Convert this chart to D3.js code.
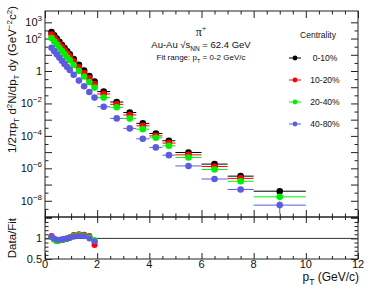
<!DOCTYPE html>
<html>
<head>
<meta charset="utf-8">
<script src="https://cdn.jsdelivr.net/npm/d3@7"></script>
<style>
  body { margin: 0; background: #fff; }
  svg { display: block; font-family: "Liberation Sans", Arial, sans-serif; }
</style>
</head>
<body>
<div id="chart"></div>
<script>
'use strict';

// pT bin centres (GeV/c)
const ptLow  = [0.25, 0.35, 0.45, 0.55, 0.65, 0.75, 0.85, 0.95, 1.1, 1.3, 1.5, 1.7, 1.9];
const ptHigh = [2.25, 2.75, 3.25, 3.75, 4.25, 4.75, 5.5, 6.5, 7.5, 9];
const binLo  = [2.0, 2.5, 3.0, 3.5, 4.0, 4.5, 5, 6, 7, 8];
const binHi  = [2.5, 3.0, 3.5, 4.0, 4.5, 5.0, 6, 7, 8, 10];

const centralities = ['0-10%', '10-20%', '20-40%', '40-80%'];
const colors = ['#000000', '#ff0000', '#00f000', '#5c5ce0'];

// invariant yields, low pT
const yLow0  = [251, 158, 100, 63, 40, 25.7, 16.6, 10.7, 5.5, 2.4, 1.07, 0.49, 0.22];
const yLow1  = [178, 112, 71, 45, 28.5, 18.3, 11.8, 7.6, 3.9, 1.70, 0.76, 0.35, 0.155];
const yLow2  = [108, 68, 43, 27, 17.2, 11.0, 7.1, 4.6, 2.35, 1.03, 0.46, 0.21, 0.095];
const yLow3  = [26.9, 17.0, 10.7, 6.8, 4.3, 2.75, 1.78, 1.15, 0.59, 0.257, 0.115, 0.051, 0.023];

// invariant yields, high pT
const yHigh0 = [0.054, 0.0123, 2.75e-3, 5.9e-4, 1.41e-4, 5.0e-5, 9.5e-6, 1.82e-6, 3.3e-7, 3.9e-8];
const yHigh1 = [0.0385, 8.8e-3, 1.95e-3, 4.2e-4, 1.0e-4, 3.6e-5, 6.8e-6, 1.3e-6, 2.4e-7, null];
const yHigh2 = [0.023, 5.8e-3, 1.2e-3, 2.6e-4, 7.6e-5, 2.45e-5, 4.7e-6, 8.5e-7, 1.6e-7, 1.75e-8];
const yHigh3 = [6.3e-3, 1.2e-3, 2.9e-4, 6.6e-5, 1.95e-5, 6.5e-6, 1.4e-6, 2.2e-7, 5.0e-8, 5.4e-9];

// relative errors on high pT points
const eHigh0 = [0.05, 0.05, 0.06, 0.06, 0.07, 0.08, 0.08, 0.1, 0.12, 0.15];
const eHigh1 = [0.05, 0.05, 0.06, 0.06, 0.07, 0.08, 0.08, 0.1, 0.12, 0.15];
const eHigh2 = [0.05, 0.05, 0.06, 0.06, 0.07, 0.08, 0.09, 0.12, 0.15, 0.3];
const eHigh3 = [0.06, 0.06, 0.07, 0.08, 0.09, 0.1, 0.12, 0.15, 0.25, 0.7];

// data / fit ratio over the fit range
const ratio0 = [1.04, 0.98, 0.95, 0.96, 0.97, 0.98, 1.00, 1.02, 1.06, 1.09, 1.08, 1.04, 0.92];
const ratio1 = [1.06, 0.99, 0.94, 0.95, 0.96, 0.98, 1.00, 1.03, 1.08, 1.10, 1.09, 1.06, 0.84];
const ratio2 = [1.03, 0.97, 0.93, 0.95, 0.97, 0.98, 1.00, 1.02, 1.06, 1.08, 1.07, 1.03, 0.96];
const ratio3 = [1.04, 1.00, 0.97, 0.97, 0.98, 0.99, 1.00, 1.01, 1.04, 1.06, 1.05, 1.00, 0.93];

const yLows   = [yLow0, yLow1, yLow2, yLow3];
const yHighs  = [yHigh0, yHigh1, yHigh2, yHigh3];
const eHighs  = [eHigh0, eHigh1, eHigh2, eHigh3];
const ratios  = [ratio0, ratio1, ratio2, ratio3];

const W = 374, H = 290;
const L = 45, R = 358, T = 11, M = 217, B = 259;

const svg = d3.select('#chart').append('svg').attr('width', W).attr('height', H);

const x  = d3.scaleLinear().domain([0, 12]).range([L, R]);
const y  = d3.scaleLog().domain([1e-9, 5e3]).range([M, T]);
const yr = d3.scaleLinear().domain([0.5, 1.52]).range([B, M]);

const axisColor = '#222';

//---------------- ticks ----------------
function styleAxis(g) {
  g.select('.domain').remove();
  g.selectAll('line').attr('stroke', axisColor).attr('stroke-width', 1);
  g.selectAll('text').remove();
}

const xMajor = d3.range(0, 13, 2);
const xMinor = d3.range(0, 12.01, 0.5).filter(v => v % 2 !== 0);

function xTicks(yPos, dir, len) {
  const mk = () => dir === 'up' ? d3.axisTop(x) : d3.axisBottom(x);
  svg.append('g').attr('transform', `translate(0,${yPos})`)
    .call(mk().tickValues(xMajor).tickSize(len).tickSizeOuter(0)).call(styleAxis);
  svg.append('g').attr('transform', `translate(0,${yPos})`)
    .call(mk().tickValues(xMinor).tickSize(len / 2).tickSizeOuter(0)).call(styleAxis);
}
xTicks(M, 'up', 7);
xTicks(T, 'down', 7);
xTicks(B, 'up', 6);
xTicks(M, 'down', 6);

const decades = d3.range(-9, 4).map(p => Math.pow(10, p));
const halfDecades = d3.range(-9, 3).map(p => Math.pow(10, p + 0.5));
const ratioMinor = [0.6, 0.7, 0.8, 0.9, 1.1, 1.2, 1.3, 1.4];

[[L, d3.axisRight], [R, d3.axisLeft]].forEach(([xp, ax]) => {
  svg.append('g').attr('transform', `translate(${xp},0)`)
    .call(ax(y).tickValues(decades).tickSize(7).tickSizeOuter(0)).call(styleAxis);
  svg.append('g').attr('transform', `translate(${xp},0)`)
    .call(ax(y).tickValues(halfDecades).tickSize(3.5).tickSizeOuter(0)).call(styleAxis);
  svg.append('g').attr('transform', `translate(${xp},0)`)
    .call(ax(yr).tickValues([0.5, 1, 1.5]).tickSize(7).tickSizeOuter(0)).call(styleAxis);
  svg.append('g').attr('transform', `translate(${xp},0)`)
    .call(ax(yr).tickValues(ratioMinor).tickSize(3.5).tickSizeOuter(0)).call(styleAxis);
});

//---------------- frames ----------------
svg.append('rect').attr('x', L).attr('y', T).attr('width', R - L).attr('height', M - T)
  .attr('fill', 'none').attr('stroke', axisColor).attr('stroke-width', 1);
svg.append('rect').attr('x', L).attr('y', M).attr('width', R - L).attr('height', B - M)
  .attr('fill', 'none').attr('stroke', axisColor).attr('stroke-width', 1);

//---------------- tick labels ----------------
const fs = 11;
xMajor.forEach(v => {
  svg.append('text').attr('x', x(v)).attr('y', 268).attr('text-anchor', 'middle')
    .attr('font-size', fs).attr('fill', '#111').text(v);
});

const yLabels = [3, 2, 0, -2, -4, -6, -8];
yLabels.forEach(p => {
  const t = svg.append('text').attr('x', 42).attr('y', y(Math.pow(10, p)) + 4)
    .attr('text-anchor', 'end').attr('font-size', fs).attr('fill', '#111');
  if (p === 0) { t.text('1'); return; }
  t.append('tspan').text('10');
  t.append('tspan').attr('dy', -5).attr('font-size', 8).text(p < 0 ? '\u2212' + (-p) : p);
});

[[1, '1'], [0.5, '0.5']].forEach(([v, s]) => {
  svg.append('text').attr('x', 42).attr('y', yr(v) + 4).attr('text-anchor', 'end')
    .attr('font-size', fs).attr('fill', '#111').text(s);
});

//---------------- axis titles ----------------
const yt = svg.append('text').attr('transform', 'translate(16,6) rotate(-90)')
  .attr('text-anchor', 'end').attr('font-size', 11.5).attr('fill', '#111');
yt.append('tspan').text('1/2\u03c0p');
yt.append('tspan').attr('dy', 3).attr('font-size', 8).text('T');
yt.append('tspan').attr('dy', -3).text(' d');
yt.append('tspan').attr('dy', -4).attr('font-size', 8).text('2');
yt.append('tspan').attr('dy', 4).text('N/dp');
yt.append('tspan').attr('dy', 3).attr('font-size', 8).text('T');
yt.append('tspan').attr('dy', -3).text(' dy (GeV');
yt.append('tspan').attr('dy', -4).attr('font-size', 8).text('\u22122');
yt.append('tspan').attr('dy', 4).text('c');
yt.append('tspan').attr('dy', -4).attr('font-size', 8).text('2');
yt.append('tspan').attr('dy', 4).text(')');

svg.append('text').attr('transform', `translate(16,${M + 1}) rotate(-90)`)
  .attr('text-anchor', 'end').attr('font-size', 11.5).attr('fill', '#111').text('Data/Fit');

const xt = svg.append('text').attr('x', R + 1).attr('y', 281).attr('text-anchor', 'end')
  .attr('font-size', 12).attr('fill', '#111');
xt.append('tspan').text('p');
xt.append('tspan').attr('dy', 4).attr('font-size', 8.5).text('T');
xt.append('tspan').attr('dy', -4).text(' (GeV/c)');

//---------------- annotation ----------------
const ann = svg.append('g').attr('fill', '#111');
const pi = ann.append('text').attr('x', 201).attr('y', 36).attr('text-anchor', 'middle')
  .attr('font-size', 12).attr('font-family', '"Liberation Serif", serif');
pi.append('tspan').text('\u03c0');
pi.append('tspan').attr('dy', -5).attr('font-size', 8).text('+');

const au = ann.append('text').attr('x', 201).attr('y', 48).attr('text-anchor', 'middle').attr('font-size', 9.5);
au.append('tspan').text('Au-Au \u221as');
au.append('tspan').attr('dy', 2.5).attr('font-size', 6.5).text('NN');
au.append('tspan').attr('dy', -2.5).text(' = 62.4 GeV');

const fr = ann.append('text').attr('x', 201).attr('y', 60).attr('text-anchor', 'middle').attr('font-size', 8);
fr.append('tspan').text('Fit range: p');
fr.append('tspan').attr('dy', 2.5).attr('font-size', 5.5).text('T');
fr.append('tspan').attr('dy', -2.5).text(' = 0-2 GeV/c');

//---------------- legend ----------------
const lg = svg.append('g');
lg.append('text').attr('x', 318).attr('y', 38).attr('text-anchor', 'middle')
  .attr('font-size', 8.5).attr('fill', '#111').text('Centrality');
centralities.forEach((c, i) => {
  const yy = 58 + i * 22;
  lg.append('line').attr('x1', 289).attr('x2', 301).attr('y1', yy).attr('y2', yy)
    .attr('stroke', colors[i]).attr('stroke-width', 1);
  lg.append('circle').attr('cx', 295).attr('cy', yy).attr('r', 2.4).attr('fill', colors[i]);
  lg.append('text').attr('x', 325).attr('y', yy + 3).attr('text-anchor', 'middle')
    .attr('font-size', 8.5).attr('fill', '#111').text(c);
});

//---------------- spectra ----------------
svg.append('clipPath').attr('id', 'clipTop').append('rect')
  .attr('x', L).attr('y', T).attr('width', R - L).attr('height', M - T);
svg.append('clipPath').attr('id', 'clipBot').append('rect')
  .attr('x', L).attr('y', M).attr('width', R - L).attr('height', B - M);

const gTop = svg.append('g').attr('clip-path', 'url(#clipTop)');
const rad = 3.3;

yLows.forEach((vals, s) => {
  const g = gTop.append('g');
  const hi = yHighs[s].map((v, i) => ({ v: v, i: i })).filter(d => d.v !== null);
  // high pT error bars
  hi.forEach(d => {
    const e = eHighs[s][d.i];
    g.append('line').attr('x1', x(binLo[d.i])).attr('x2', x(binHi[d.i]))
      .attr('y1', y(d.v)).attr('y2', y(d.v)).attr('stroke', colors[s]).attr('stroke-width', 1);
    g.append('line').attr('x1', x(ptHigh[d.i])).attr('x2', x(ptHigh[d.i]))
      .attr('y1', y(d.v * (1 - e))).attr('y2', y(d.v * (1 + e))).attr('stroke', colors[s]).attr('stroke-width', 1);
  });
  g.selectAll('circle.lo').data(vals).join('circle').attr('class', 'lo')
    .attr('cx', (d, i) => x(ptLow[i])).attr('cy', d => y(d)).attr('r', rad).attr('fill', colors[s]);
  g.selectAll('circle.hi').data(hi).join('circle').attr('class', 'hi')
    .attr('cx', d => x(ptHigh[d.i])).attr('cy', d => y(d.v)).attr('r', rad).attr('fill', colors[s]);
});

//---------------- ratio ----------------
const gBot = svg.append('g').attr('clip-path', 'url(#clipBot)');
gBot.append('line').attr('x1', L).attr('x2', R).attr('y1', yr(1)).attr('y2', yr(1))
  .attr('stroke', '#333').attr('stroke-width', 1);

ratios.forEach((vals, s) => {
  const g = gBot.append('g');
  vals.forEach((v, i) => {
    g.append('line').attr('x1', x(ptLow[i])).attr('x2', x(ptLow[i]))
      .attr('y1', yr(v - 0.05)).attr('y2', yr(v + 0.05)).attr('stroke', colors[s]).attr('stroke-width', 1);
    g.append('line').attr('x1', x(ptLow[i] - 0.05)).attr('x2', x(ptLow[i] + 0.05))
      .attr('y1', yr(v)).attr('y2', yr(v)).attr('stroke', colors[s]).attr('stroke-width', 1);
  });
  g.selectAll('circle').data(vals).join('circle')
    .attr('cx', (d, i) => x(ptLow[i])).attr('cy', d => yr(d)).attr('r', 3).attr('fill', colors[s]);
});
</script>
</body>
</html>
